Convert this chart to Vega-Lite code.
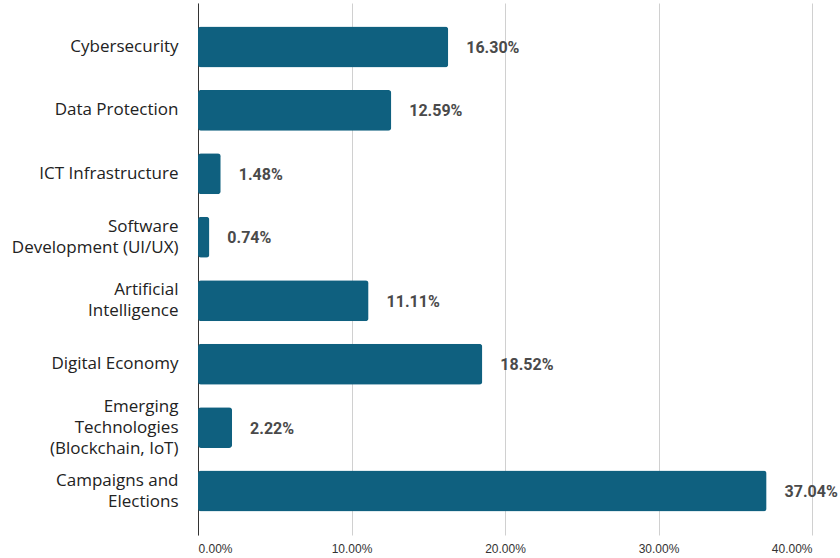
{
  "$schema": "https://vega.github.io/schema/vega-lite/v6.json",
  "autosize": "none",
  "padding": {"left": 198, "top": 3, "right": 28, "bottom": 23},
  "width": 614,
  "height": 532,
  "background": "white",
  "data": {
    "values": [
      {"topic": "Cybersecurity", "value": 16.30, "label": "16.30%"},
      {"topic": "Data Protection", "value": 12.59, "label": "12.59%"},
      {"topic": "ICT Infrastructure", "value": 1.48, "label": "1.48%"},
      {"topic": "Software|Development (UI/UX)", "value": 0.74, "label": "0.74%"},
      {"topic": "Artificial|Intelligence", "value": 11.11, "label": "11.11%"},
      {"topic": "Digital Economy", "value": 18.52, "label": "18.52%"},
      {"topic": "Emerging|Technologies|(Blockchain, IoT)", "value": 2.22, "label": "2.22%"},
      {"topic": "Campaigns and|Elections", "value": 37.04, "label": "37.04%"}
    ]
  },
  "encoding": {
    "y": {
      "field": "topic",
      "type": "nominal",
      "sort": null,
      "scale": {"paddingInner": 0.355, "paddingOuter": 0.37},
      "axis": {
        "title": null,
        "labelExpr": "split(datum.label, '|')",
        "labelFont": "Open Sans",
        "labelFontSize": 17,
        "labelColor": "#222222",
        "labelLineHeight": 21,
        "labelPadding": 20,
        "labelOffset": {
          "condition": [
            {"test": "length(split(datum.value, '|')) === 3", "value": -21},
            {"test": "length(split(datum.value, '|')) === 2", "value": -10.5}
          ],
          "value": 0
        },
        "ticks": false,
        "domain": true,
        "domainColor": "#333333",
        "domainWidth": 1,
        "labelLimit": 300
      }
    },
    "x": {
      "field": "value",
      "type": "quantitative",
      "scale": {"domain": [0, 40], "nice": false},
      "axis": {
        "title": null,
        "values": [0, 10, 20, 30, 40],
        "labelExpr": "format(datum.value, '.2f') + '%'",
        "labelFont": "Liberation Sans",
        "labelFontSize": 12,
        "labelColor": "#333333",
        "labelPadding": 8,
        "ticks": false,
        "domain": false,
        "grid": true,
        "gridColor": "#d0d0d0",
        "gridWidth": 1
      }
    }
  },
  "layer": [
    {
      "mark": {"type": "bar", "color": "#0f607f", "cornerRadius": 3}
    },
    {
      "mark": {
        "type": "text",
        "align": "left",
        "baseline": "middle",
        "dx": 18,
        "dy": 1,
        "font": "Roboto",
        "fontSize": 16,
        "fontWeight": "bold",
        "color": "#4a4a4a"
      },
      "encoding": {
        "text": {"field": "label", "type": "nominal"}
      }
    }
  ],
  "config": {"view": {"stroke": null}}
}
